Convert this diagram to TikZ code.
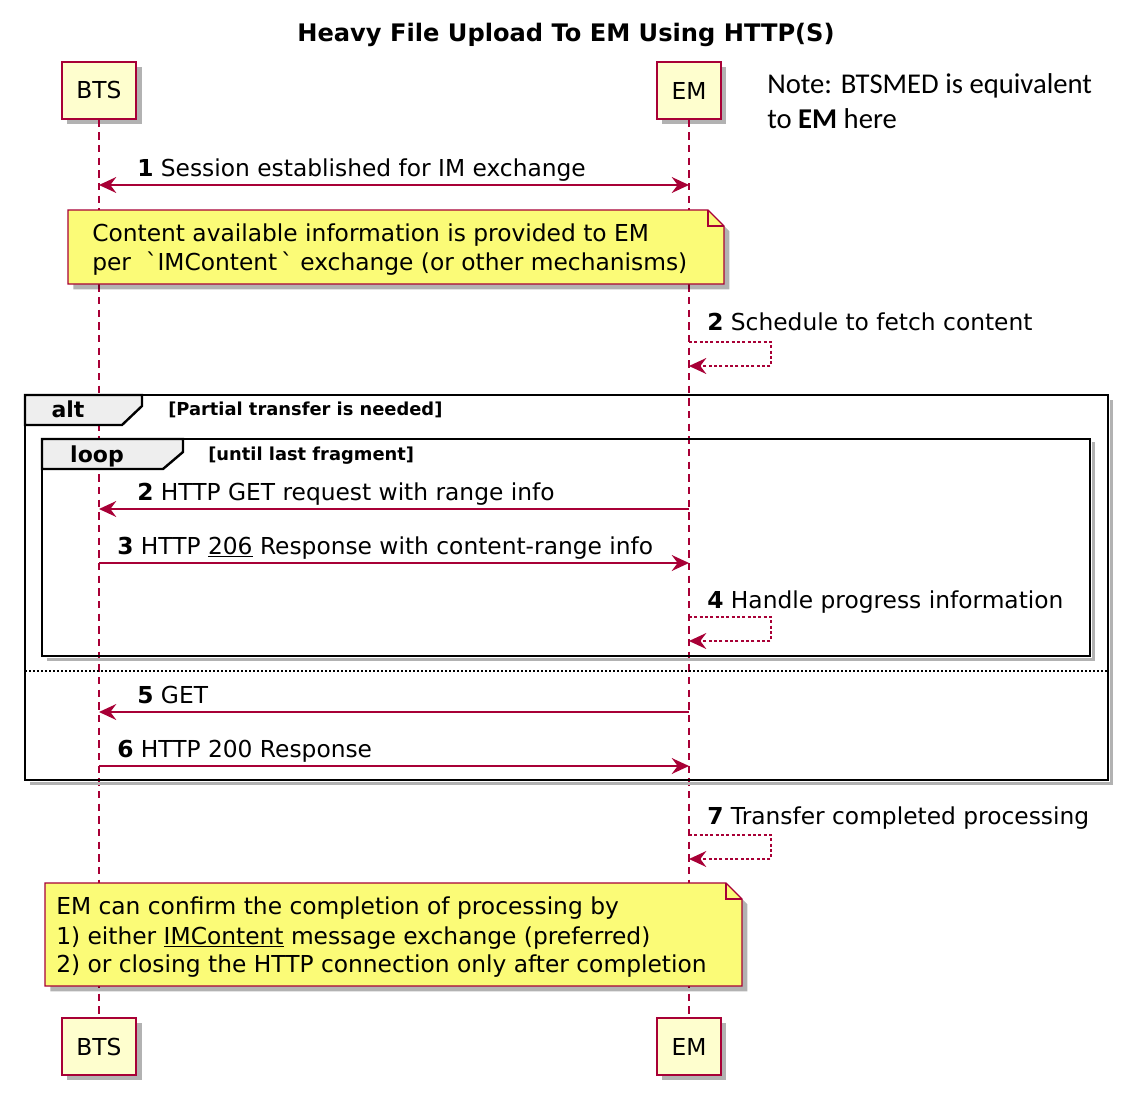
\documentclass[tikz,border=0pt]{standalone}
\usepackage{fontspec}
\newfontfamily\umlfont{DejaVu Sans}
\newfontfamily\notefont{Carlito}
\usetikzlibrary{shadows,arrows.meta}
\definecolor{umlred}{HTML}{A80036}
\definecolor{partfill}{HTML}{FEFECE}
\definecolor{notefill}{HTML}{FBFB77}
\definecolor{tabfill}{HTML}{EEEEEE}
\begin{document}
\begin{tikzpicture}[x=0.75pt,y=-0.75pt,
  font=\umlfont\fontsize{17.5}{21}\selectfont,
  participant/.style={draw=umlred, fill=partfill, line width=1.1pt, minimum height=42.75pt, inner xsep=11pt,
    drop shadow={shadow xshift=4pt, shadow yshift=-4pt, fill=black, opacity=0.3}},
  lifeline/.style={draw=umlred, line width=0.8pt, dash pattern=on 5.5pt off 4pt},
  msg/.style={draw=umlred, line width=1.1pt, -{Stealth[length=13pt,width=12pt,inset=4.5pt]}},
  bimsg/.style={draw=umlred, line width=1.1pt, {Stealth[length=13pt,width=12pt,inset=4.5pt]}-{Stealth[length=13pt,width=12pt,inset=4.5pt]}},
  selfmsg/.style={draw=umlred, line width=1.1pt, dash pattern=on 2.2pt off 1.8pt, -{Stealth[length=13pt,width=12pt,inset=4.5pt]}},
  lbl/.style={anchor=base west, inner sep=0pt},
  notebox/.style={draw=umlred, fill=notefill, line width=0.9pt,
    drop shadow={shadow xshift=4pt, shadow yshift=-4pt, fill=black, opacity=0.3}},
  frame/.style={draw=black, line width=1.8pt},
  framesh/.style={draw=black!30, line width=2.5pt},
  tab/.style={draw=black, fill=tabfill, line width=1.8pt},
  tablbl/.style={anchor=base, inner sep=0pt, font=\umlfont\bfseries\fontsize{16.5}{20}\selectfont},
  cond/.style={anchor=base west, inner sep=0pt, font=\umlfont\bfseries\fontsize{13.4}{16}\selectfont},
]
\useasboundingbox (0,0) rectangle (1127,1095);
\fill[white] (0,0) rectangle (1127,1095);

% title
\node[anchor=base, inner sep=0pt, font=\umlfont\bfseries\fontsize{18.1}{22}\selectfont] (title) at (566,42) {Heavy File Upload To EM Using HTTP(S)};

% side note
\node[lbl, font=\notefont\fontsize{21.5}{26}\selectfont] (side1) at (767,94) {Note: BTSMED is equivalent};
\node[lbl, font=\notefont\fontsize{21.5}{26}\selectfont] (side2) at (767,129) {to \textbf{EM} here};

% participants
\node[participant] (btsT) at (99,90.5) {BTS};
\node[participant] (emT) at (689,90.5) {EM};
\node[participant] (btsB) at (99,1046.5) {BTS};
\node[participant] (emB) at (689,1046.5) {EM};

% lifelines
\draw[lifeline] (btsT.south) -- (btsB.north);
\draw[lifeline] (emT.south) -- (emB.north);

% message 1
\coordinate (b1) at (99,185);
\coordinate (e1) at (689,185);
\draw[bimsg] (b1) -- (e1);
\node[lbl] (l1) at (137,176) {\textbf{1} Session established for IM exchange};

% note 1
\path[notebox] (68,210) -- (708,210) -- (724,226) -- (724,284) -- (68,284) -- cycle;
\draw[draw=umlred, line width=0.9pt] (708,210) -- (708,226) -- (724,226);
\node[lbl] (n1a) at (92,241) {Content available information is provided to EM};
\node[lbl] (n1b) at (92,270) {per\ \ `IMContent\,` exchange (or other mechanisms)};

% message 2 self
\coordinate (s2a) at (689,342);
\coordinate (s2b) at (689,366);
\draw[selfmsg] (s2a) -- (771,342) -- (771,366) -- (s2b);
\node[lbl] (l2) at (707,330) {\textbf{2} Schedule to fetch content};

% alt frame
\draw[framesh] (1111.5,400) -- (1111.5,783.5) -- (30,783.5);
\draw[frame] (25,395) rectangle (1108,780);
\filldraw[tab] (25,395) -- (142,395) -- (142,406) -- (122,425) -- (25,425) -- cycle;
\node[tablbl] (altl) at (68,417) {alt};
\node[cond] (altc) at (168,415) {[Partial transfer is needed]};

% loop frame
\draw[framesh] (1093.5,442) -- (1093.5,659.5) -- (47,659.5);
\draw[frame] (42,439) rectangle (1090,656);
\filldraw[tab] (42,439) -- (183,439) -- (183,452) -- (163,469) -- (42,469) -- cycle;
\node[tablbl] (loopl) at (97,462) {loop};
\node[cond] (loopc) at (208,460) {[until last fragment]};

% message 2 GET
\coordinate (b2) at (99,509);
\coordinate (e2) at (689,509);
\draw[msg] (e2) -- (b2);
\node[lbl] (l2g) at (137,500) {\textbf{2} HTTP GET request with range info};

% message 3
\coordinate (b3) at (99,563);
\coordinate (e3) at (689,563);
\draw[msg] (b3) -- (e3);
\node[lbl] (l3) at (117,554) {\textbf{3} HTTP \underline{206} Response with content-range info};

% message 4 self
\coordinate (s4a) at (689,617);
\coordinate (s4b) at (689,641);
\draw[selfmsg] (s4a) -- (771,617) -- (771,641) -- (s4b);
\node[lbl] (l4) at (707,608) {\textbf{4} Handle progress information};

% else separator
\coordinate (sepl) at (25,671);
\coordinate (sepr) at (1108,671);
\draw[black, line width=0.9pt, dash pattern=on 1.5pt off 1.5pt] (sepl) -- (sepr);

% message 5
\coordinate (b5) at (99,712);
\coordinate (e5) at (689,712);
\draw[msg] (e5) -- (b5);
\node[lbl] (l5) at (137,703) {\textbf{5} GET};

% message 6
\coordinate (b6) at (99,766);
\coordinate (e6) at (689,766);
\draw[msg] (b6) -- (e6);
\node[lbl] (l6) at (117,757) {\textbf{6} HTTP 200 Response};

% message 7 self
\coordinate (s7a) at (689,835);
\coordinate (s7b) at (689,859);
\draw[selfmsg] (s7a) -- (771,835) -- (771,859) -- (s7b);
\node[lbl] (l7) at (707,824) {\textbf{7} Transfer completed processing};

% note 2
\path[notebox] (45,883) -- (726,883) -- (742,899) -- (742,986) -- (45,986) -- cycle;
\draw[draw=umlred, line width=0.9pt] (726,883) -- (726,899) -- (742,899);
\node[lbl] (n2a) at (56,914) {EM can confirm the completion of processing by};
\node[lbl] (n2b) at (56,944) {1) either \underline{IMContent} message exchange (preferred)};
\node[lbl] (n2c) at (56,972) {2) or closing the HTTP connection only after completion};
\end{tikzpicture}
\end{document}
